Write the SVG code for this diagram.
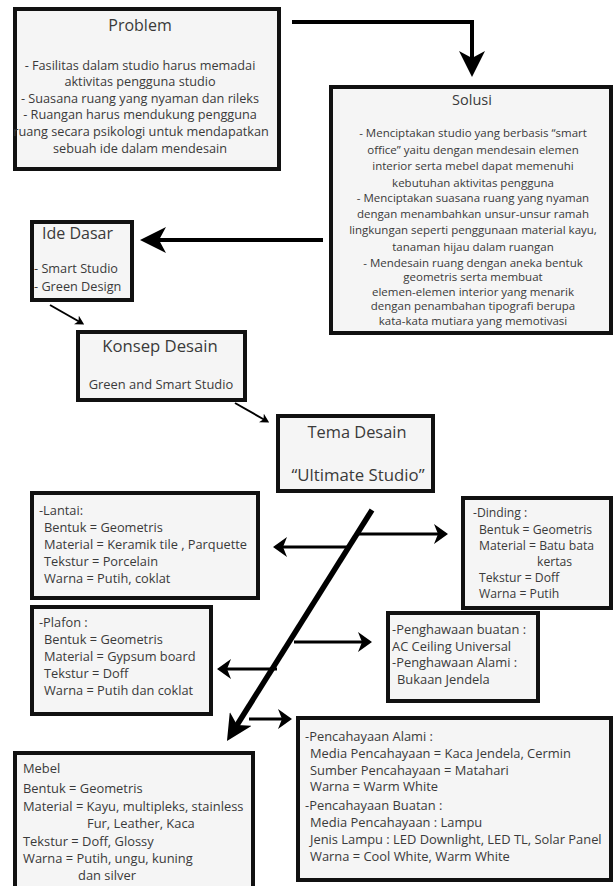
<svg xmlns="http://www.w3.org/2000/svg" width="613" height="886" viewBox="0 0 613 886">
<style>
.box{fill:#f5f5f5;stroke:#111;stroke-width:4}
.t{font-family:"Open Sans","Liberation Sans",sans-serif;font-size:12px;fill:#3a3a3a}
.c{text-anchor:middle}
.ln{fill:none;stroke:#000;stroke-linecap:butt;stroke-linejoin:miter}
.w4{stroke-width:4}
.w3{stroke-width:3}
.w2{stroke-width:2}
.w5{stroke-width:5.5}
#problem .t{font-size:12.7px}
#solusi .t{font-size:11.5px}
#ide-dasar .t{font-size:12.7px}
#konsep-desain .t{font-size:12.9px}
#lantai .t,#plafon .t{font-size:12.8px}
#dinding .t{font-size:12.2px}
#penghawaan .t,#pencahayaan .t,#mebel .t{font-size:12.9px}
#problem .h,#ide-dasar .h{font-size:16px}
#solusi .h{font-size:14.5px}
#konsep-desain .h{font-size:16.7px}
#tema-desain .h{font-size:16.4px}
#tema-desain .u{font-size:16.8px}
</style>
<defs>
<marker id="big" markerUnits="userSpaceOnUse" viewBox="0 0 26 26" refX="16" refY="13" markerWidth="26" markerHeight="26" orient="auto"><path d="M0,0 L26,13 L0,26 L7,13 z" fill="#000"/></marker>
<marker id="med" markerUnits="userSpaceOnUse" viewBox="0 0 14 20" refX="8" refY="10" markerWidth="14" markerHeight="20" orient="auto"><path d="M0,0 L14,10 L0,20 L4,10 z" fill="#000"/></marker>
<marker id="sm" markerUnits="userSpaceOnUse" viewBox="0 0 9 10" refX="5" refY="5" markerWidth="9" markerHeight="10" orient="auto"><path d="M0,0 L9,5 L0,10 L2.5,5 z" fill="#000"/></marker>
</defs>

<g id="connectors">
<path class="ln w4" d="M292,22 H472 V67" marker-end="url(#big)"/>
<path class="ln w4" d="M323,240 H150" marker-end="url(#big)"/>
<path class="ln w2" d="M50,305 L80.7,322.5" marker-end="url(#sm)"/>
<path class="ln w2" d="M235,403 L265.7,420.5" marker-end="url(#sm)"/>
<path class="ln w5" d="M372,510 L232.3,732.5" marker-end="url(#big)"/>
<path class="ln w3" d="M349,547 H279" marker-end="url(#med)"/>
<path class="ln w3" d="M357,534 H442" marker-end="url(#med)"/>
<path class="ln w3" d="M294,642 H366" marker-end="url(#med)"/>
<path class="ln w3" d="M277,669 H223" marker-end="url(#med)"/>
<path class="ln w3" d="M249,719 H286" marker-end="url(#med)"/>
</g>

<g id="problem">
<rect class="box" x="15" y="9" width="264" height="160"/>
<text class="t h c" x="140" y="31">Problem</text>
<text class="t c" x="140" y="69.5">- Fasilitas dalam studio harus memadai</text>
<text class="t c" x="140" y="86.1">aktivitas pengguna studio</text>
<text class="t c" x="140" y="102.7">- Suasana ruang yang nyaman dan rileks</text>
<text class="t c" x="140" y="119.3">- Ruangan harus mendukung pengguna</text>
<text class="t c" x="141" y="135.9">ruang secara psikologi untuk mendapatkan</text>
<text class="t c" x="140" y="152.5">sebuah ide dalam mendesain</text>
</g>

<g id="solusi">
<rect class="box" x="331" y="87" width="280" height="246"/>
<text class="t h c" x="472" y="105">Solusi</text>
<text class="t c" x="473" y="137">- Menciptakan studio yang berbasis “smart</text>
<text class="t c" x="473" y="153.5">office” yaitu dengan mendesain elemen</text>
<text class="t c" x="473" y="170">interior serta mebel dapat memenuhi</text>
<text class="t c" x="473" y="186.5">kebutuhan aktivitas pengguna</text>
<text class="t c" x="473" y="202">- Menciptakan suasana ruang yang nyaman</text>
<text class="t c" x="473" y="218">dengan menambahkan unsur-unsur ramah</text>
<text class="t c" x="473" y="234">lingkungan seperti penggunaan material kayu,</text>
<text class="t c" x="473" y="250.5">tanaman hijau dalam ruangan</text>
<text class="t c" x="473" y="266.5">- Mendesain ruang dengan aneka bentuk</text>
<text class="t c" x="473" y="281">geometris serta membuat</text>
<text class="t c" x="473" y="295.5">elemen-elemen interior yang menarik</text>
<text class="t c" x="473" y="310">dengan penambahan tipografi berupa</text>
<text class="t c" x="473" y="325">kata-kata mutiara yang memotivasi</text>
</g>

<g id="ide-dasar">
<rect class="box" x="32" y="222" width="100" height="78"/>
<text class="t h" x="42" y="239">Ide Dasar</text>
<text class="t" x="34" y="273">- Smart Studio</text>
<text class="t" x="34" y="291">- Green Design</text>
</g>

<g id="konsep-desain">
<rect class="box" x="78" y="332" width="167" height="68"/>
<text class="t h c" x="160" y="352">Konsep Desain</text>
<text class="t c" x="161" y="389">Green and Smart Studio</text>
</g>

<g id="tema-desain">
<rect class="box" x="278" y="416" width="155" height="75"/>
<text class="t h c" x="357" y="438">Tema Desain</text>
<text class="t u c" x="358" y="481">“Ultimate Studio”</text>
</g>

<g id="lantai">
<rect class="box" x="32" y="493" width="226" height="105"/>
<text class="t" x="39" y="515">-Lantai:</text>
<text class="t" x="44" y="531.5">Bentuk = Geometris</text>
<text class="t" x="44" y="549">Material = Keramik tile , Parquette</text>
<text class="t" x="44" y="566">Tekstur = Porcelain</text>
<text class="t" x="44" y="583">Warna = Putih, coklat</text>
</g>

<g id="plafon">
<rect class="box" x="32" y="607" width="179" height="107"/>
<text class="t" x="39" y="627">-Plafon :</text>
<text class="t" x="44" y="644">Bentuk = Geometris</text>
<text class="t" x="44" y="661">Material = Gypsum board</text>
<text class="t" x="44" y="677.5">Tekstur = Doff</text>
<text class="t" x="44" y="694.5">Warna = Putih dan coklat</text>
</g>

<g id="dinding">
<rect class="box" x="463" y="498" width="148" height="110"/>
<text class="t" x="473" y="517">-Dinding :</text>
<text class="t" x="479" y="533.5">Bentuk = Geometris</text>
<text class="t" x="479" y="549.5">Material = Batu bata</text>
<text class="t" x="537" y="566">kertas</text>
<text class="t" x="479" y="582">Tekstur = Doff</text>
<text class="t" x="479" y="598">Warna = Putih</text>
</g>

<g id="penghawaan">
<rect class="box" x="388" y="613" width="150" height="88"/>
<text class="t" x="392" y="634">-Penghawaan buatan :</text>
<text class="t" x="392" y="650.7">AC Ceiling Universal</text>
<text class="t" x="392" y="667.4">-Penghawaan Alami :</text>
<text class="t" x="397" y="684.1">Bukaan Jendela</text>
</g>

<g id="pencahayaan">
<rect class="box" x="298" y="718" width="313" height="162"/>
<text class="t" x="305" y="741">-Pencahayaan Alami :</text>
<text class="t" x="310" y="757.5">Media Pencahayaan = Kaca Jendela, Cermin</text>
<text class="t" x="310" y="774.5">Sumber Pencahayaan = Matahari</text>
<text class="t" x="310" y="791">Warna = Warm White</text>
<text class="t" x="305" y="810">-Pencahayaan Buatan :</text>
<text class="t" x="310" y="827">Media Pencahayaan : Lampu</text>
<text class="t" x="310" y="844">Jenis Lampu : LED Downlight, LED TL, Solar Panel</text>
<text class="t" x="310" y="861">Warna = Cool White, Warm White</text>
</g>

<g id="mebel">
<rect class="box" x="15" y="753" width="238" height="140"/>
<text class="t" x="23" y="773">Mebel</text>
<text class="t" x="23" y="793">Bentuk = Geometris</text>
<text class="t" x="23" y="811">Material = Kayu, multipleks, stainless</text>
<text class="t" x="87" y="828">Fur, Leather, Kaca</text>
<text class="t" x="23" y="846">Tekstur = Doff, Glossy</text>
<text class="t" x="23" y="863">Warna = Putih, ungu, kuning</text>
<text class="t" x="78" y="880">dan silver</text>
</g>
</svg>
